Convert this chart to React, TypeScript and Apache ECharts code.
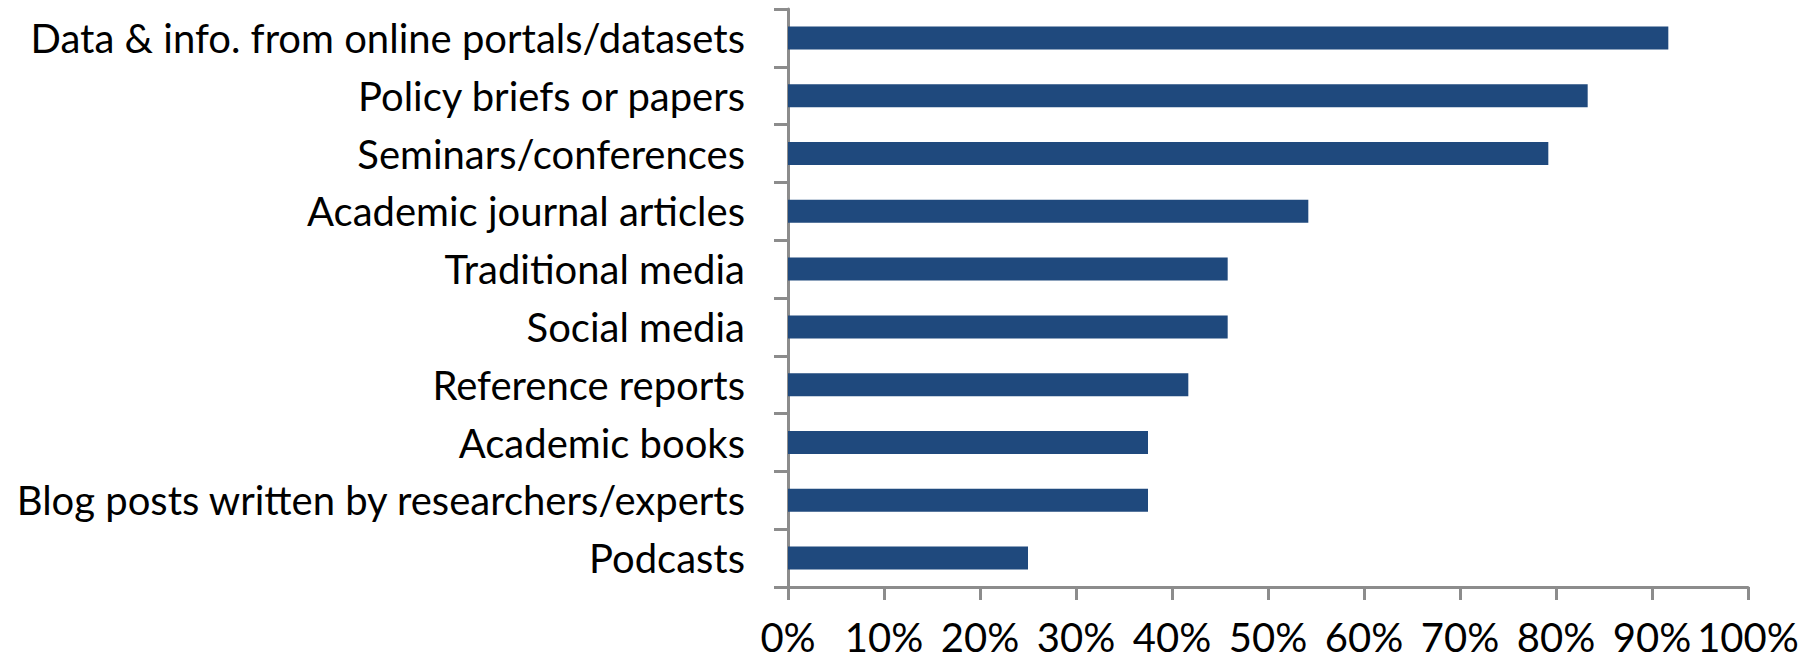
import React, { useEffect, useRef } from "react";
import * as echarts from "echarts";

const categories = [
  "Data & info. from online portals/datasets",
  "Policy briefs or papers",
  "Seminars/conferences",
  "Academic journal articles",
  "Traditional media",
  "Social media",
  "Reference reports",
  "Academic books",
  "Blog posts written by researchers/experts",
  "Podcasts",
];
const values = [91.7, 83.3, 79.2, 54.2, 45.8, 45.8, 41.7, 37.5, 37.5, 25.0];
const xMin = 0;
const xMax = 100;
const xStep = 10;

export default function App() {
  const ref = useRef<HTMLDivElement>(null);
  useEffect(() => {
    document.body.style.margin = "0";
    const chart = echarts.init(ref.current!, null, { renderer: "svg" });
    const font = "Lato, 'Liberation Sans', sans-serif";
    chart.setOption({
      animation: false,
      backgroundColor: "#ffffff",
      grid: { left: 788, right: 54, top: 9, bottom: 74, containLabel: false },
      xAxis: {
        type: "value",
        min: xMin,
        max: xMax,
        interval: xStep,
        axisLine: { show: true, lineStyle: { color: "#8c8c8c", width: 3 } },
        axisTick: { show: true, length: 13, lineStyle: { color: "#8c8c8c", width: 3 } },
        splitLine: { show: false },
        axisLabel: {
          formatter: "{value}%",
          color: "#000000",
          fontFamily: font,
          fontSize: 40,
          lineHeight: 40,
          margin: 30,
        },
      },
      yAxis: {
        type: "category",
        data: categories,
        inverse: true,
        axisLine: { show: true, lineStyle: { color: "#8c8c8c", width: 3 } },
        axisTick: { show: true, length: 14, lineStyle: { color: "#8c8c8c", width: 3 } },
        axisLabel: {
          color: "#000000",
          fontFamily: font,
          fontSize: 40,
          margin: 43,
        },
      },
      series: [
        {
          type: "bar",
          data: values,
          barWidth: 23,
          itemStyle: { color: "#1F497D" },
        },
      ],
    });
    return () => chart.dispose();
  }, []);
  return <div ref={ref} style={{ width: 1802, height: 661 }} />;
}
